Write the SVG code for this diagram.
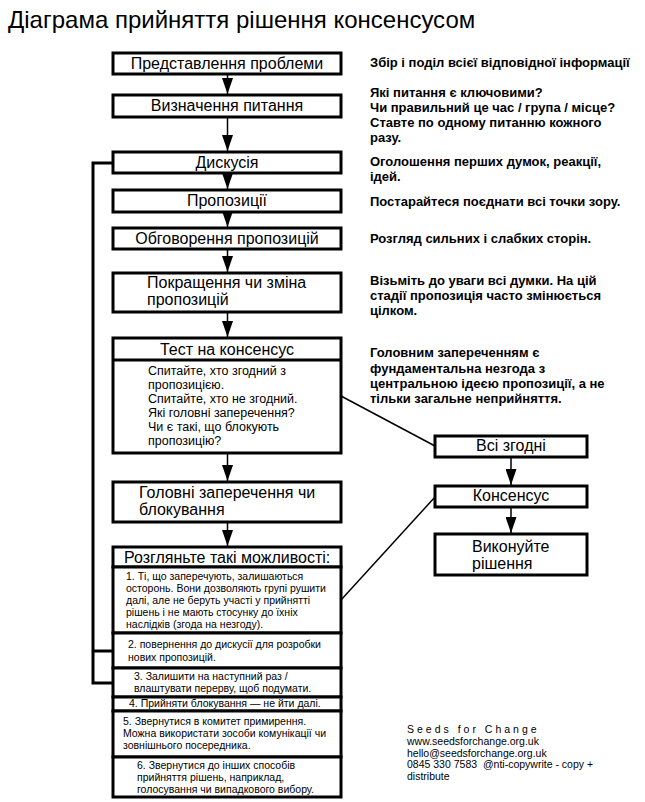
<svg xmlns="http://www.w3.org/2000/svg" width="645" height="802" viewBox="0 0 645 802">
<defs>
<marker id="ah" viewBox="0 0 16 11" refX="16" refY="5.5" markerWidth="16" markerHeight="11" markerUnits="userSpaceOnUse" orient="auto">
<path d="M0,0 L16,5.5 L0,11 Z" fill="#000"/>
</marker>
<style>
.box{fill:#fff;stroke:#000;stroke-width:3}
.lbl{font-family:"Liberation Sans",Arial,sans-serif;font-size:16px;fill:#000}
.c{text-anchor:middle}
.body{font-family:"Liberation Sans",Arial,sans-serif;font-size:12.5px;fill:#000}
.sm{font-family:"Liberation Sans",Arial,sans-serif;font-size:10.5px;fill:#000}
.note{font-family:"Liberation Sans",Arial,sans-serif;font-size:13px;font-weight:bold;fill:#000}
.foot{font-family:"Liberation Sans",Arial,sans-serif;font-size:10.5px;fill:#000;white-space:pre}
.arr{stroke:#000;stroke-width:1.5;fill:none}
.thick{stroke:#000;stroke-width:3;fill:none}
</style>
</defs>
<rect width="645" height="802" fill="#fff"/>
<text x="8" y="28" font-family="Liberation Sans, Arial, sans-serif" font-size="24">Діаграма прийняття рішення консенсусом</text>

<g id="connectors">
<line class="arr" x1="227.5" y1="74" x2="227.5" y2="94" marker-end="url(#ah)"/>
<line class="arr" x1="227.5" y1="117" x2="227.5" y2="151" marker-end="url(#ah)"/>
<line class="arr" x1="227.5" y1="173" x2="227.5" y2="189" marker-end="url(#ah)"/>
<line class="arr" x1="227.5" y1="212" x2="227.5" y2="227" marker-end="url(#ah)"/>
<line class="arr" x1="227.5" y1="249" x2="227.5" y2="272" marker-end="url(#ah)"/>
<line class="arr" x1="227.5" y1="312" x2="227.5" y2="337" marker-end="url(#ah)"/>
<line class="arr" x1="227.5" y1="453" x2="227.5" y2="481" marker-end="url(#ah)"/>
<line class="arr" x1="227.5" y1="522" x2="227.5" y2="546" marker-end="url(#ah)"/>
<line class="arr" x1="511" y1="457" x2="511" y2="485" marker-end="url(#ah)"/>
<line class="arr" x1="511" y1="507" x2="511" y2="533" marker-end="url(#ah)"/>
<line class="arr" x1="341" y1="396" x2="435" y2="446"/>
<line class="arr" x1="341" y1="600" x2="435" y2="497"/>
<polyline class="thick" points="113,163 93,163 93,683 113,683"/>
<line class="thick" x1="93" y1="651" x2="113" y2="651"/>
</g>

<g id="n1"><rect class="box" x="113" y="53" width="228" height="21"/><text class="lbl c" x="227" y="69">Представлення проблеми</text></g>
<g id="n2"><rect class="box" x="113" y="95" width="228" height="22"/><text class="lbl c" x="227" y="111">Визначення питання</text></g>
<g id="n3"><rect class="box" x="113" y="152" width="228" height="21"/><text class="lbl c" x="227" y="168">Дискусія</text></g>
<g id="n4"><rect class="box" x="113" y="190" width="228" height="22"/><text class="lbl c" x="227" y="206">Пропозиції</text></g>
<g id="n5"><rect class="box" x="113" y="228" width="228" height="21"/><text class="lbl c" x="227" y="244">Обговорення пропозицій</text></g>
<g id="n6"><rect class="box" x="113" y="273" width="228" height="39"/><text class="lbl" x="147" y="288">Покращення чи зміна</text><text class="lbl" x="147" y="305">пропозицій</text></g>
<g id="n7"><rect class="box" x="113" y="338" width="228" height="115"/><line class="thick" x1="113" y1="360" x2="341" y2="360"/><text class="lbl c" x="227" y="355">Тест на консенсус</text>
<text class="body" x="148" y="375">Спитайте, хто згодний з</text>
<text class="body" x="148" y="389">пропозицією.</text>
<text class="body" x="148" y="403">Спитайте, хто не згодний.</text>
<text class="body" x="148" y="417">Які головні заперечення?</text>
<text class="body" x="148" y="431">Чи є такі, що блокують</text>
<text class="body" x="148" y="445">пропозицію?</text></g>
<g id="n8"><rect class="box" x="113" y="482" width="228" height="40"/><text class="lbl" x="139" y="498">Головні заперечення чи</text><text class="lbl" x="139" y="515">блокування</text></g>

<g id="n9"><rect class="box" x="113" y="547" width="228" height="20"/><text class="lbl" x="124" y="563" font-size="17">Розгляньте такі можливості:</text></g>
<g id="o1"><rect class="box" x="113" y="567" width="228" height="66"/>
<text class="sm" x="126" y="580">1. Ті, що заперечують, залишаються</text>
<text class="sm" x="126" y="592">осторонь. Вони дозволяють групі рушити</text>
<text class="sm" x="126" y="604">далі, але не беруть участі у прийнятті</text>
<text class="sm" x="126" y="616">рішень і не мають стосунку до їхніх</text>
<text class="sm" x="126" y="628">наслідків (згода на незгоду).</text></g>
<g id="o2"><rect class="box" x="113" y="633" width="228" height="35"/>
<text class="sm" x="128" y="648">2. повернення до дискусії для розробки</text>
<text class="sm" x="128" y="661">нових пропозицій.</text></g>
<g id="o3"><rect class="box" x="113" y="668" width="228" height="29"/>
<text class="sm" x="134" y="680">3. Залишити на наступний раз /</text>
<text class="sm" x="134" y="692">влаштувати перерву, щоб подумати.</text></g>
<g id="o4"><rect class="box" x="113" y="697" width="228" height="14"/>
<text class="sm" x="129" y="707">4. Прийняти блокування — не йти далі.</text></g>
<g id="o5"><rect class="box" x="113" y="711" width="228" height="46"/>
<text class="sm" x="123" y="725">5. Звернутися в комитет примирення.</text>
<text class="sm" x="123" y="737">Можна використати зособи комунікації чи</text>
<text class="sm" x="123" y="749">зовнішнього посередника.</text></g>
<g id="o6"><rect class="box" x="113" y="757" width="228" height="40"/>
<text class="sm" x="137" y="769">6. Звернутися до інших способів</text>
<text class="sm" x="137" y="781">прийняття рішень, наприклад,</text>
<text class="sm" x="137" y="793">голосування чи випадкового вибору.</text></g>

<g id="r1"><rect class="box" x="435" y="436" width="152" height="21"/><text class="lbl c" x="511" y="451">Всі згодні</text></g>
<g id="r2"><rect class="box" x="435" y="486" width="152" height="21"/><text class="lbl c" x="511" y="501">Консенсус</text></g>
<g id="r3"><rect class="box" x="435" y="534" width="152" height="41"/><text class="lbl" x="472" y="552">Виконуйте</text><text class="lbl" x="472" y="569">рішення</text></g>

<g id="notes">
<text class="note" x="370" y="67">Збір і поділ всієї відповідної інформації</text>
<text class="note" x="370" y="97">Які питання є ключовими?</text>
<text class="note" x="370" y="112">Чи правильний це час / група / місце?</text>
<text class="note" x="370" y="127">Ставте по одному питанню кожного</text>
<text class="note" x="370" y="142">разу.</text>
<text class="note" x="370" y="166">Оголошення перших думок, реакції,</text>
<text class="note" x="370" y="181">ідей.</text>
<text class="note" x="370" y="206">Постарайтеся поєднати всі точки зору.</text>
<text class="note" x="370" y="243">Розгляд сильних і слабких сторін.</text>
<text class="note" x="370" y="285">Візьміть до уваги всі думки. На цій</text>
<text class="note" x="370" y="300">стадії пропозиція часто змінюється</text>
<text class="note" x="370" y="315">цілком.</text>
<text class="note" x="370" y="357">Головним запереченням є</text>
<text class="note" x="370" y="373">фундаментальна незгода з</text>
<text class="note" x="370" y="388">центральною ідеєю пропозиції, а не</text>
<text class="note" x="370" y="403">тільки загальне неприйняття.</text>
</g>

<g id="footer">
<text class="foot" x="407" y="733" letter-spacing="3">Seeds for Change</text>
<text class="foot" x="407" y="745">www.seedsforchange.org.uk</text>
<text class="foot" x="407" y="757">hello@seedsforchange.org.uk</text>
<text class="foot" x="407" y="768">0845 330 7583  @nti-copywrite - copy +</text>
<text class="foot" x="407" y="780">distribute</text>
</g>
</svg>
